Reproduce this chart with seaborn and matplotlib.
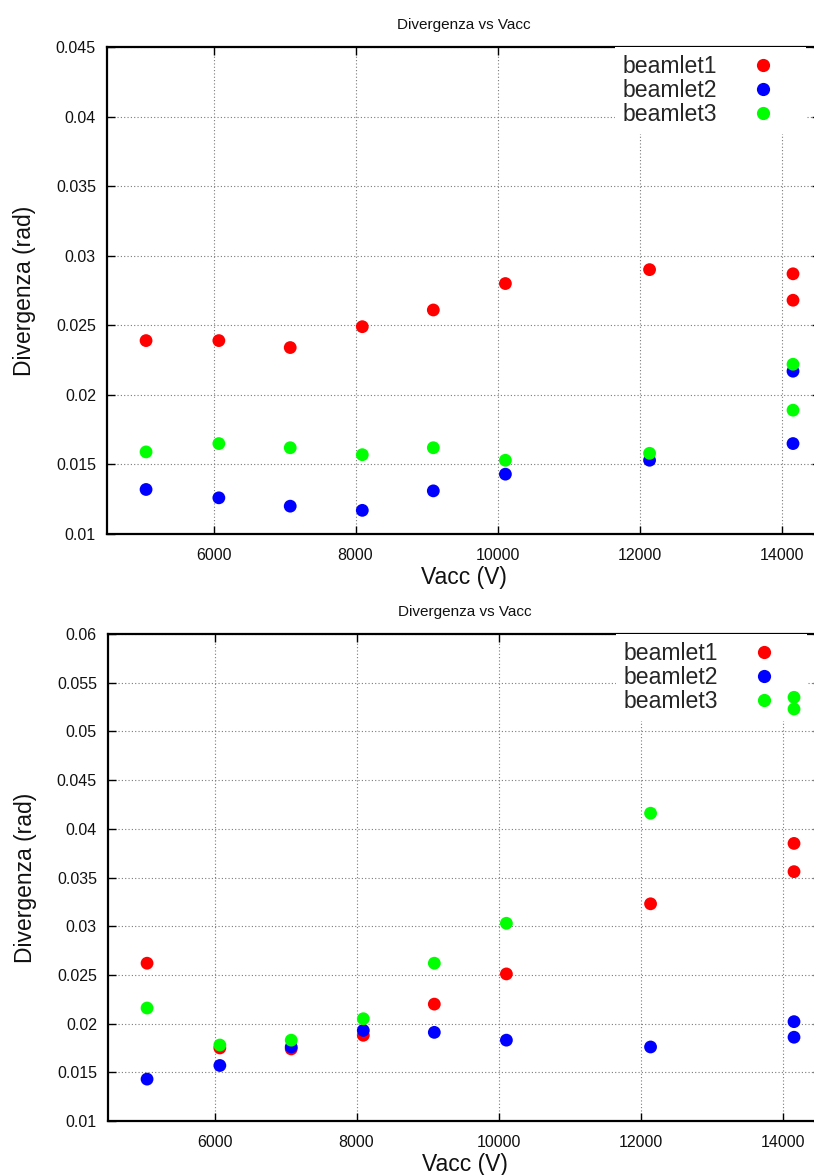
import numpy as np
import pandas as pd
import matplotlib
matplotlib.use("Agg")
import matplotlib.pyplot as plt
from matplotlib.ticker import FuncFormatter, MultipleLocator
import seaborn as sns

# ---- data ----
vacc = [5050, 6075, 7080, 8095, 9095, 10110, 12140, 14160, 14160]
series_names = ["beamlet1", "beamlet2", "beamlet3"]

top_beamlet1 = [0.0239, 0.0239, 0.0234, 0.0249, 0.0261, 0.0280, 0.0290, 0.0287, 0.0268]
top_beamlet2 = [0.0132, 0.0126, 0.0120, 0.0117, 0.0131, 0.0143, 0.0153, 0.0217, 0.0165]
top_beamlet3 = [0.0159, 0.0165, 0.0162, 0.0157, 0.0162, 0.0153, 0.0158, 0.0222, 0.0189]

bot_beamlet1 = [0.0262, 0.0175, 0.0174, 0.0188, 0.0220, 0.0251, 0.0323, 0.0385, 0.0356]
bot_beamlet2 = [0.0143, 0.0157, 0.0176, 0.0193, 0.0191, 0.0183, 0.0176, 0.0202, 0.0186]
bot_beamlet3 = [0.0216, 0.0178, 0.0183, 0.0205, 0.0262, 0.0303, 0.0416, 0.0535, 0.0523]

x_ticks = [6000, 8000, 10000, 12000, 14000]
title = "Divergenza vs Vacc"
xlabel = "Vacc (V)"
ylabel = "Divergenza (rad)"
colors = {"beamlet1": "#ff0000", "beamlet2": "#0000ff", "beamlet3": "#00ff00"}


def make_df(s1, s2, s3):
    rows = []
    for name, vals in zip(series_names, [s1, s2, s3]):
        for xv, yv in zip(vacc, vals):
            rows.append({"Vacc": xv, "Div": yv, "serie": name})
    return pd.DataFrame(rows)


sns.set_theme(style="white")
plt.rcParams["font.family"] = ["Liberation Sans", "DejaVu Sans"]

fig = plt.figure(figsize=(8.14, 11.75), dpi=100)
W, H = 814, 1175


def px_axes(left, top, right, bottom):
    return fig.add_axes([left / W, 1 - bottom / H, (right - left) / W, (bottom - top) / H])


ax_top = px_axes(107, 47, 820, 534)
ax_bot = px_axes(108, 634, 821, 1121)

panels = [
    (ax_top, make_df(top_beamlet1, top_beamlet2, top_beamlet3), (0.01, 0.045)),
    (ax_bot, make_df(bot_beamlet1, bot_beamlet2, bot_beamlet3), (0.01, 0.06)),
]

for ax, df, ylim in panels:
    ax.set_axisbelow(True)
    sns.scatterplot(data=df, x="Vacc", y="Div", hue="serie", palette=colors,
                    s=85, linewidth=0, edgecolor="none", ax=ax, zorder=3)
    ax.set_xlim(4500, 14540)
    ax.set_ylim(*ylim)
    ax.set_xticks(x_ticks)
    ax.yaxis.set_major_locator(MultipleLocator(0.005))
    ax.yaxis.set_major_formatter(FuncFormatter(lambda v, p: "%g" % round(v, 4)))
    ax.xaxis.set_major_formatter(FuncFormatter(lambda v, p: "%d" % v))
    ax.grid(True, linestyle=(0, (1, 2)), color="#7a7a7a", linewidth=0.8)
    for side in ["left", "bottom", "top", "right"]:
        ax.spines[side].set_visible(True)
        ax.spines[side].set_color("black")
        ax.spines[side].set_linewidth(1.6)
    ax.tick_params(axis="both", which="major", direction="in", length=6, width=1,
                   color="black", labelsize=11.5, labelcolor="#111111",
                   top=True, right=True, bottom=True, left=True)
    ax.tick_params(axis="x", pad=10)
    ax.tick_params(axis="y", pad=8)
    ax.set_xlabel(xlabel, fontsize=16.5, labelpad=2, color="#111111")
    ax.set_ylabel(ylabel, fontsize=16.5, labelpad=14, color="#111111")
    ax.set_title(title, fontsize=11, pad=13, color="#111111")
    sns.move_legend(ax, "upper right", bbox_to_anchor=(0.9805, 1.0),
                    title=None, frameon=True, fontsize=16.6,
                    markerfirst=False, handlelength=3.0, handletextpad=0.5,
                    labelspacing=0.05, borderpad=0.35, borderaxespad=0,
                    fancybox=False, framealpha=1.0, facecolor="white",
                    edgecolor="none")
    leg = ax.get_legend()
    leg.set_zorder(2.5)
    for h in leg.legend_handles:
        try:
            h.set_markersize(9.5)
        except Exception:
            pass

fig.savefig("out.png", dpi=100)
